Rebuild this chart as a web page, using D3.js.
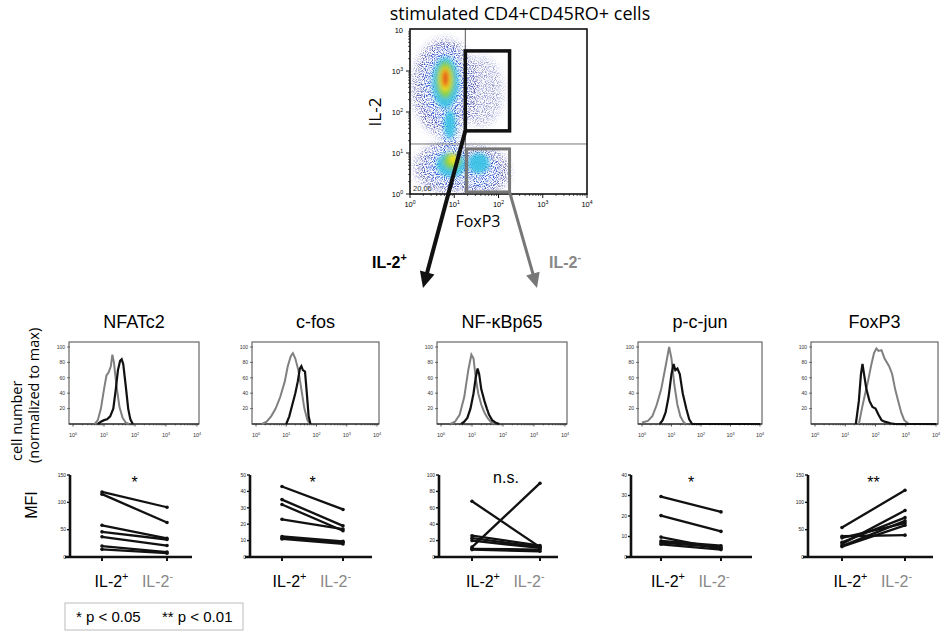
<!DOCTYPE html>
<html><head><meta charset="utf-8">
<script src="https://cdn.jsdelivr.net/npm/d3@7"></script>
<style>body{margin:0;background:#fff}svg{display:block}</style>
</head><body>
<svg id="c" width="945" height="637"></svg>
<script>
// ---------------- DATA ----------------
const markers = ["NFATc2", "c-fos", "NF-κBp65", "p-c-jun", "FoxP3"];
const sigLabels = ["*", "*", "n.s.", "*", "**"];
const groups = ["IL-2", "IL-2"];
const groupSups = ["+", "-"];

// histogram curves: [log10 fluorescence, % of max]
const histNFATc2Pos = [[0.8,0],[0.9,3],[1.0,5],[1.1,6],[1.2,10],[1.3,20],[1.38,45],[1.45,70],[1.52,82],[1.57,84],[1.62,78],[1.7,50],[1.78,20],[1.85,6],[1.93,0]];
const histNFATc2Neg = [[0.7,0],[0.8,5],[0.9,20],[1.0,45],[1.08,63],[1.15,67],[1.22,75],[1.27,90],[1.32,80],[1.4,50],[1.5,22],[1.6,8],[1.7,2],[1.8,0]];
const histCfosPos = [[1.0,0],[1.1,10],[1.2,25],[1.3,40],[1.38,55],[1.45,72],[1.5,75],[1.55,70],[1.62,68],[1.68,40],[1.74,10],[1.8,0]];
const histCfosNeg = [[0.2,0],[0.35,3],[0.5,10],[0.65,20],[0.8,35],[0.95,55],[1.05,75],[1.15,88],[1.22,92],[1.3,85],[1.4,70],[1.5,45],[1.6,20],[1.7,5],[1.78,0]];
const histNFkBPos = [[0.65,0],[0.75,3],[0.85,8],[0.95,20],[1.05,40],[1.12,60],[1.18,72],[1.23,65],[1.3,45],[1.4,30],[1.48,20],[1.55,12],[1.65,5],[1.75,2],[1.88,0]];
const histNFkBNeg = [[0.3,0],[0.45,3],[0.6,12],[0.75,35],[0.88,70],[0.98,90],[1.05,85],[1.12,60],[1.2,40],[1.3,25],[1.4,15],[1.5,8],[1.6,3],[1.72,0]];
const histPcjunPos = [[0.6,0],[0.7,5],[0.8,15],[0.9,35],[1.0,65],[1.07,78],[1.13,70],[1.2,72],[1.28,65],[1.38,40],[1.5,20],[1.6,6],[1.7,0],[4,0]];
const histPcjunNeg = [[0,2],[0.2,4],[0.35,10],[0.5,25],[0.65,45],[0.8,75],[0.92,100],[1.0,85],[1.1,50],[1.2,25],[1.3,10],[1.4,3],[1.48,0]];
const histFoxP3Pos = [[1.35,0],[1.45,30],[1.52,65],[1.57,78],[1.62,65],[1.7,45],[1.8,30],[1.9,22],[2.0,20],[2.1,12],[2.2,5],[2.3,3],[2.5,1],[2.65,0],[4,0]];
const histFoxP3Neg = [[1.45,0],[1.55,20],[1.65,38],[1.75,55],[1.85,75],[1.95,92],[2.03,98],[2.1,95],[2.2,96],[2.3,85],[2.45,75],[2.55,65],[2.65,45],[2.75,30],[2.85,15],[2.95,5],[3.1,0]];
const histPos = [histNFATc2Pos, histCfosPos, histNFkBPos, histPcjunPos, histFoxP3Pos];
const histNeg = [histNFATc2Neg, histCfosNeg, histNFkBNeg, histPcjunNeg, histFoxP3Neg];
const histYTicks = [20, 40, 60, 80, 100];
const logTicks = [0, 1, 2, 3, 4];

// MFI paired values [IL-2+, IL-2-]
const mfiNFATc2 = [[119,91],[115,63],[58,34],[46,32],[37,21],[20,9],[14,7]];
const mfiCfos = [[43,29],[35,19],[32,16],[23,17],[12.5,9.5],[11.5,9],[11,8]];
const mfiNFkB = [[68,12],[12,90],[26,14],[23,12],[20,11],[10,9],[9,7]];
const mfiPcjun = [[29.5,22],[20.2,12.5],[9.7,4],[7.8,5.5],[7,4.7],[6.2,3.6]];
const mfiFoxP3 = [[54,122],[38,40],[35,62],[27,72],[24,85],[20,66],[19,58]];
const mfiData = [mfiNFATc2, mfiCfos, mfiNFkB, mfiPcjun, mfiFoxP3];
const mfiMax = [150, 50, 100, 40, 150];
const mfiStep = [50, 10, 20, 10, 50];

// flow cytometry density (log10 FoxP3, log10 IL-2, radii in decades, colour level)
const densityX = [0.78,1.6,0.85,1.6, 0.8,0.9,0.88,1.55, 0.8,0.9,0.93,1.55, 0.8,0.95, 0.8,0.98, 0.8];
const densityY = [2.6,2.5,0.65,0.55, 2.65,1.6,0.68,0.55, 2.72,1.7,0.72,0.75, 2.78,0.8, 2.8,0.85, 2.82];
const densityRX = [0.72,0.5,0.74,0.64, 0.5,0.22,0.52,0.45, 0.3,0.13,0.33,0.24, 0.2,0.2, 0.13,0.1, 0.07];
const densityRY = [1.18,0.85,0.62,0.6, 0.92,0.5,0.47,0.42, 0.62,0.35,0.3,0.25, 0.45,0.2, 0.3,0.12, 0.22];
const densityLevel = [0,0,0,0, 1,1,1,1, 2,2,2,2, 3,3, 4,4, 5];
const flowTicks = [0, 1, 2, 3];
const gateIL2pos = [1.25, 2.25, 1.54, 3.49]; // x0,x1,y0,y1 (log)
const gateIL2neg = [1.28, 2.25, 0.05, 1.1];
const quadX = 1.25, quadY = 1.22;
const quadPercent = "20,06";

// ---------------- DRAW ----------------
const svg = d3.select("#c");
const sans = "'Liberation Sans', Arial, sans-serif";
const hum = "'Open Sans', sans-serif";
const grey = "#808080";

function supText(g, x, y, base, sup, size, o = {}) {
  const t = g.append("text").attr("x", x).attr("y", y).attr("font-size", size)
    .attr("font-family", o.font || sans).attr("text-anchor", o.anchor || "middle")
    .attr("fill", o.fill || "#000");
  if (o.weight) t.attr("font-weight", o.weight);
  t.append("tspan").text(base);
  if (sup) t.append("tspan").attr("dy", -size * 0.42).attr("font-size", size * 0.68).text(sup);
  return t;
}

// title
svg.append("text").attr("x", 520).attr("y", 20).attr("text-anchor", "middle")
  .attr("font-family", hum).attr("font-size", 18).text("stimulated CD4+CD45RO+ cells");

// ---- flow plot ----
const fx = d3.scaleLinear().domain([0, 4]).range([410, 587]);
const fy = d3.scaleLinear().domain([0, 4]).range([194, 30]);
const defs = svg.append("defs");
defs.append("clipPath").attr("id", "fclip").append("rect")
  .attr("x", 410).attr("y", 29).attr("width", 177).attr("height", 165);
const filt = defs.append("filter").attr("id", "blur").attr("x", "-20%").attr("y", "-20%").attr("width", "140%").attr("height", "140%");
filt.append("feGaussianBlur").attr("stdDeviation", 2);
const grain = defs.append("filter").attr("id", "grain").attr("x", "-20%").attr("y", "-20%").attr("width", "140%").attr("height", "140%");
grain.append("feGaussianBlur").attr("in", "SourceGraphic").attr("stdDeviation", 3.5).attr("result", "b");
grain.append("feTurbulence").attr("type", "fractalNoise").attr("baseFrequency", 0.9).attr("numOctaves", 1).attr("seed", 7).attr("result", "n");
grain.append("feColorMatrix").attr("in", "n").attr("type", "matrix")
  .attr("values", "0 0 0 0 0  0 0 0 0 0  0 0 0 0 0  4 0 0 0 -1.75").attr("result", "m");
grain.append("feComposite").attr("in", "b").attr("in2", "m").attr("operator", "in");

const levelColor = ["#2c2f9e", "#2f5fdc", "#33c2e4", "#86d13c", "#f2e21e", "#e8321e"];
const levelOpacity = [0.85, 0.9, 0.9, 0.95, 1, 1];
const idx = densityX.map((d, i) => i);
const clipG = svg.append("g").attr("clip-path", "url(#fclip)");
function drawEllipses(g, ids) {
  g.selectAll("ellipse").data(ids).join("ellipse")
    .attr("cx", i => fx(densityX[i])).attr("cy", i => fy(densityY[i]))
    .attr("rx", i => fx(densityX[i] + densityRX[i]) - fx(densityX[i]))
    .attr("ry", i => fy(densityY[i]) - fy(densityY[i] + densityRY[i]))
    .attr("fill", i => levelColor[densityLevel[i]])
    .attr("opacity", i => levelOpacity[densityLevel[i]] * (i === 1 ? 0.6 : 1));
}
drawEllipses(clipG.append("g").attr("filter", "url(#grain)"), idx.filter(i => densityLevel[i] <= 1));
drawEllipses(clipG.append("g").attr("filter", "url(#blur)"), idx.filter(i => densityLevel[i] >= 2));

// quadrant lines
svg.append("line").attr("x1", fx(quadX)).attr("x2", fx(quadX)).attr("y1", 29).attr("y2", 194).attr("stroke", "#555").attr("stroke-width", 1);
svg.append("line").attr("x1", 410).attr("x2", 587).attr("y1", fy(quadY)).attr("y2", fy(quadY)).attr("stroke", "#777").attr("stroke-width", 1);
// frame
svg.append("rect").attr("x", 410).attr("y", 29).attr("width", 177).attr("height", 165)
  .attr("fill", "none").attr("stroke", "#111").attr("stroke-width", 1.6);
// gates
svg.append("rect").attr("x", fx(gateIL2pos[0])).attr("y", fy(gateIL2pos[3]))
  .attr("width", fx(gateIL2pos[1]) - fx(gateIL2pos[0])).attr("height", fy(gateIL2pos[2]) - fy(gateIL2pos[3]))
  .attr("fill", "none").attr("stroke", "#111").attr("stroke-width", 3.5);
svg.append("rect").attr("x", fx(gateIL2neg[0])).attr("y", fy(gateIL2neg[3]))
  .attr("width", fx(gateIL2neg[1]) - fx(gateIL2neg[0])).attr("height", fy(gateIL2neg[2]) - fy(gateIL2neg[3]))
  .attr("fill", "none").attr("stroke", "#777").attr("stroke-width", 3);
// ticks flow
const fT = svg.append("g");
logTicks.forEach(d => {
  fT.append("line").attr("x1", fx(d)).attr("x2", fx(d)).attr("y1", 194).attr("y2", 198).attr("stroke", "#111");
  supText(fT, fx(d), 207, "10", String(d), 7.5);
  for (let k = 2; k < 10 && d < 4; k++) {
    const v = d + Math.log10(k);
    fT.append("line").attr("x1", fx(v)).attr("x2", fx(v)).attr("y1", 194).attr("y2", 196).attr("stroke", "#111").attr("stroke-width", 0.7);
  }
});
flowTicks.forEach(d => {
  fT.append("line").attr("x1", 406).attr("x2", 410).attr("y1", fy(d)).attr("y2", fy(d)).attr("stroke", "#111");
  supText(fT, 403, fy(d) + 3, "10", String(d), 7.5, { anchor: "end" });
  for (let k = 2; k < 10; k++) {
    const v = d + Math.log10(k);
    fT.append("line").attr("x1", 408).attr("x2", 410).attr("y1", fy(v)).attr("y2", fy(v)).attr("stroke", "#111").attr("stroke-width", 0.7);
  }
});
fT.append("text").attr("x", 403).attr("y", 33).attr("text-anchor", "end").attr("font-size", 7.5).attr("font-family", sans).text("10");
svg.append("text").attr("x", 413).attr("y", 191).attr("font-size", 7.5).attr("font-family", sans).attr("fill", "#333").text(quadPercent);
svg.append("text").attr("transform", "translate(381,112) rotate(-90)").attr("text-anchor", "middle")
  .attr("font-family", hum).attr("font-size", 17).text("IL-2");
svg.append("text").attr("x", 478).attr("y", 227).attr("text-anchor", "middle")
  .attr("font-family", hum).attr("font-size", 16).text("FoxP3");

// arrows
function arrow(s, t, color, w, L, hw) {
  const dx = t[0] - s[0], dy = t[1] - s[1], len = Math.hypot(dx, dy);
  const ux = dx / len, uy = dy / len;
  const bx = t[0] - ux * L, by = t[1] - uy * L;
  svg.append("line").attr("x1", s[0]).attr("y1", s[1]).attr("x2", bx + ux * 2).attr("y2", by + uy * 2)
    .attr("stroke", color).attr("stroke-width", w);
  svg.append("path").attr("d", `M${t[0]},${t[1]}L${bx - uy * hw},${by + ux * hw}L${bx + uy * hw},${by - ux * hw}Z`)
    .attr("fill", color);
}
arrow([fx(gateIL2pos[0]), fy(gateIL2pos[2])], [423, 288], "#111", 4, 16, 7.5);
arrow([fx(gateIL2neg[1]), fy(gateIL2neg[2])], [537, 288], "#777", 3, 15, 7);
supText(svg, 372, 268, "IL-2", "+", 16, { anchor: "start", weight: "bold" });
supText(svg, 549, 268, "IL-2", "-", 16, { anchor: "start", weight: "bold", fill: "#888" });

// ---- histograms ----
const hL = [69, 252, 437, 638, 811];
const hR = [199, 379, 567, 762, 938];
const hTop = 342, hBot = 424;
svg.append("text").attr("transform", "translate(22,461) rotate(-90)").attr("text-anchor", "start")
  .attr("font-family", hum).attr("font-size", 14.5).text("cell number");
svg.append("text").attr("transform", "translate(39,463) rotate(-90)").attr("text-anchor", "start")
  .attr("font-family", hum).attr("font-size", 14.5).text("(normalized to max)");

markers.forEach((m, i) => {
  const g = svg.append("g");
  const x = d3.scaleLinear().domain([0, 4]).range([hL[i] + 4, hR[i] - 2]);
  const y = d3.scaleLinear().domain([0, 100]).range([hBot, hBot - 77]);
  g.append("text").attr("x", (hL[i] + hR[i]) / 2).attr("y", 328).attr("text-anchor", "middle")
    .attr("font-family", sans).attr("font-size", 18).text(m);
  g.append("rect").attr("x", hL[i]).attr("y", hTop).attr("width", hR[i] - hL[i]).attr("height", hBot - hTop)
    .attr("fill", "none").attr("stroke", "#666").attr("stroke-width", 1.2);
  g.append("line").attr("x1", hL[i]).attr("x2", hR[i]).attr("y1", hBot).attr("y2", hBot).attr("stroke", "#111").attr("stroke-width", 1.2);
  histYTicks.forEach(t => {
    g.append("line").attr("x1", hL[i] - 2).attr("x2", hL[i] + 1).attr("y1", y(t)).attr("y2", y(t)).attr("stroke", "#444").attr("stroke-width", 0.7);
    g.append("text").attr("x", hL[i] - 4).attr("y", y(t) + 1.8).attr("text-anchor", "end")
      .attr("font-family", sans).attr("font-size", 5).attr("fill", "#333").text(t);
  });
  logTicks.forEach(d => {
    g.append("line").attr("x1", x(d)).attr("x2", x(d)).attr("y1", hBot).attr("y2", hBot + 2.5).attr("stroke", "#333").attr("stroke-width", 0.8);
    supText(g, x(d), hBot + 13, "10", String(d), 5.5, { fill: "#333" });
    for (let k = 2; k < 10 && d < 4; k++) {
      const v = d + Math.log10(k);
      g.append("line").attr("x1", x(v)).attr("x2", x(v)).attr("y1", hBot).attr("y2", hBot + 1.5).attr("stroke", "#333").attr("stroke-width", 0.6);
    }
  });
  const line = d3.line().x(d => x(d[0])).y(d => y(d[1])).curve(d3.curveLinear);
  g.append("path").attr("d", line(histNeg[i])).attr("fill", "none").attr("stroke", grey).attr("stroke-width", 2);
  g.append("path").attr("d", line(histPos[i])).attr("fill", "none").attr("stroke", "#111").attr("stroke-width", 2.2);
});

// ---- MFI panels ----
const mAxis = [70, 250, 439, 631, 808];
const mT1 = [102, 282, 472, 661, 842];
const mT2 = [167, 343, 540, 721, 905];
const mEnd = [192, 372, 558, 752, 933];
const mTop = 475, mBot = 557;
svg.append("text").attr("transform", "translate(37,505) rotate(-90)").attr("text-anchor", "middle")
  .attr("font-family", sans).attr("font-size", 16).text("MFI");

markers.forEach((m, i) => {
  const g = svg.append("g");
  const y = d3.scaleLinear().domain([0, mfiMax[i]]).range([mBot, mTop]);
  g.append("line").attr("x1", mAxis[i]).attr("x2", mAxis[i]).attr("y1", mTop).attr("y2", mBot).attr("stroke", "#111").attr("stroke-width", 2.6);
  g.append("line").attr("x1", mAxis[i] - 5).attr("x2", mEnd[i]).attr("y1", mBot).attr("y2", mBot).attr("stroke", "#111").attr("stroke-width", 2.6);
  d3.range(0, mfiMax[i] + 0.001, mfiStep[i]).forEach(t => {
    g.append("line").attr("x1", mAxis[i] - 3).attr("x2", mAxis[i]).attr("y1", y(t)).attr("y2", y(t)).attr("stroke", "#111").attr("stroke-width", 1.4);
    g.append("text").attr("x", mAxis[i] - 4).attr("y", y(t) + 1.8).attr("text-anchor", "end")
      .attr("font-family", sans).attr("font-size", 5).attr("fill", "#222").text(t);
  });
  [mT1[i], mT2[i]].forEach(tx => {
    g.append("line").attr("x1", tx).attr("x2", tx).attr("y1", mBot).attr("y2", mBot + 4).attr("stroke", "#111").attr("stroke-width", 2);
  });
  mfiData[i].forEach(p => {
    g.append("line").attr("x1", mT1[i]).attr("x2", mT2[i]).attr("y1", y(p[0])).attr("y2", y(p[1]))
      .attr("stroke", "#111").attr("stroke-width", 2.3);
    g.append("circle").attr("cx", mT1[i]).attr("cy", y(p[0])).attr("r", 1.8).attr("fill", "#111");
    g.append("circle").attr("cx", mT2[i]).attr("cy", y(p[1])).attr("r", 1.8).attr("fill", "#111");
  });
  const cx = (mT1[i] + mT2[i]) / 2;
  g.append("text").attr("x", cx).attr("y", sigLabels[i] === "n.s." ? 483 : 488).attr("text-anchor", "middle")
    .attr("font-family", sans).attr("font-size", 16).text(sigLabels[i]);
  supText(g, cx - 23, 587, groups[0], groupSups[0], 16, {});
  supText(g, cx + 23, 587, groups[1], groupSups[1], 16, { fill: "#888" });
});

// legend
svg.append("rect").attr("x", 65).attr("y", 603).attr("width", 178).attr("height", 27)
  .attr("fill", "none").attr("stroke", "#bbb").attr("stroke-width", 1);
svg.append("text").attr("x", 76).attr("y", 622).attr("font-family", sans).attr("font-size", 15).text("*  p < 0.05");
svg.append("text").attr("x", 162).attr("y", 622).attr("font-family", sans).attr("font-size", 15).text("** p < 0.01");
</script>
</body></html>
